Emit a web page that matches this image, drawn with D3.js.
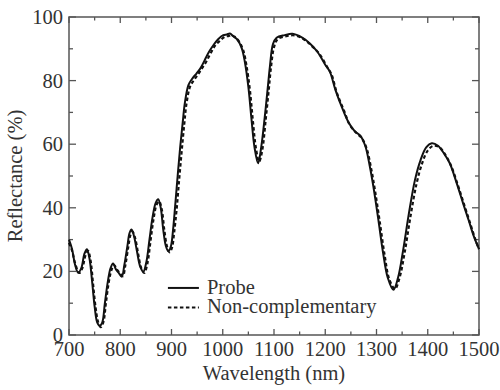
<!DOCTYPE html>
<html>
<head>
<meta charset="utf-8">
<script src="https://cdn.jsdelivr.net/npm/d3@7"></script>
</head>
<body style="margin:0">
<svg id="chart" width="500" height="390"></svg>
<script>
// Data
const probeWl = [700, 706, 712, 718, 724, 730, 735, 740, 745, 750, 755, 760, 765, 770, 776, 781, 786, 792, 797, 803,
  808, 814, 818, 822, 827, 833, 839, 845, 851, 857, 863, 869, 874, 879, 884, 889, 894, 899, 903, 907,
  912, 917, 922, 926, 933, 940, 949, 957, 965, 973, 982, 991, 1001, 1008, 1014, 1020, 1028, 1037, 1043, 1050,
  1056, 1062, 1069, 1075, 1082, 1088, 1092, 1098, 1105, 1121, 1136, 1155, 1170, 1185, 1200, 1209, 1220, 1234, 1245, 1258,
  1268, 1278, 1287, 1294, 1303, 1313, 1322, 1333, 1342, 1352, 1363, 1375, 1386, 1397, 1408, 1420, 1432, 1443, 1456, 1469,
  1480, 1490, 1500];
const probeR = [30, 27, 22, 19.6, 21, 25.5, 27, 24, 17, 9, 4, 2.9, 4, 10, 17, 21, 22.5, 20.5, 19.5, 18.3,
  22, 28, 32, 33.2, 31, 26, 21.5, 19.9, 23, 30, 37, 41.5, 42.7, 40, 33, 28, 26.3, 28, 33, 40.3,
  50, 59.2, 67, 72.9, 78.6, 80.5, 82.3, 84, 86.5, 89, 91.2, 93, 94.3, 94.5, 94.8, 94, 93, 90.2, 86, 78,
  68, 59, 54, 59, 68.6, 78, 84.4, 91.5, 93.5, 94.3, 94.7, 93.5, 91.7, 89, 85, 82.8, 77, 71, 67, 64,
  62.8, 59.5, 53, 46.6, 37, 25.7, 18, 14.2, 18, 26.7, 38, 48.7, 55, 59, 60.3, 59.5, 57, 54, 48, 41.4,
  36, 31, 27];

const nonWl = [700, 706, 712, 720, 726, 732, 737, 742, 747, 752, 757, 762, 767, 772, 778, 783, 788, 794, 799, 805,
  810, 816, 820, 824, 829, 835, 841, 847, 853, 859, 865, 871, 876, 881, 886, 891, 896, 901, 905, 910,
  915, 920, 925, 929, 936, 943, 952, 960, 968, 976, 985, 994, 1004, 1011, 1017, 1023, 1031, 1040, 1046, 1053,
  1059, 1065, 1071, 1077, 1084, 1090, 1094, 1100, 1107, 1124, 1141, 1158, 1173, 1188, 1203, 1212, 1223, 1238, 1248, 1261,
  1271, 1281, 1290, 1297, 1306, 1316, 1325, 1336, 1345, 1355, 1366, 1378, 1389, 1400, 1411, 1423, 1435, 1446, 1459, 1472,
  1483, 1493, 1500];
const nonR = [29, 26.5, 22.5, 19.5, 21, 25, 26.5, 23.5, 16, 8.5, 4, 2.5, 4, 10, 17, 20.5, 22, 20.5, 19.5, 18.5,
  22, 28, 31.5, 32.5, 30.5, 25.5, 21, 19.5, 22.5, 29.5, 36.5, 41, 42, 39.5, 33, 28, 26, 27.5, 32, 39.5,
  49, 58, 66.5, 72.5, 78, 80, 82, 84, 86, 88.5, 91, 92.5, 93.8, 94, 94.2, 93.8, 92.5, 89.5, 85, 77,
  67, 58.5, 54.5, 58, 68, 77.5, 84, 90.5, 93, 94, 94.2, 93, 91, 88.5, 84.5, 82, 76, 70, 66, 63.5,
  62, 58.5, 52, 45.5, 36, 25, 17.5, 14.5, 18, 26, 37, 47.5, 54, 58, 59.5, 59, 56.5, 53, 47, 40.5,
  35, 30, 27];

const xTicks = [700, 800, 900, 1000, 1100, 1200, 1300, 1400, 1500];
const xMinor = [750, 850, 950, 1050, 1150, 1250, 1350, 1450];
const yTicks = [0, 20, 40, 60, 80, 100];
const yMinor = [10, 30, 50, 70, 90];
const seriesNames = ["Probe", "Non-complementary"];

const svg = d3.select("#chart");
const margin = { top: 17, bottom: 55, left: 69, right: 21 };
const W = 500, H = 390;

const xScale = d3.scaleLinear().domain([700, 1500]).range([margin.left, W - margin.right]);
const yScale = d3.scaleLinear().domain([0, 100]).range([H - margin.bottom, margin.top]);
const x0 = margin.left, x1 = W - margin.right, y0 = H - margin.bottom, y1 = margin.top;

const frameColor = "#555";
const textColor = "#333";
const fontName = "Liberation Serif";

function label(x, y, str, anchor, transform) {
  const t = svg.append("text")
    .attr("font-family", fontName)
    .attr("font-size", 20.5)
    .attr("fill", textColor)
    .attr("text-anchor", anchor)
    .text(str);
  if (transform) t.attr("transform", transform);
  else t.attr("x", x).attr("y", y);
  return t;
}

// ticks (inward, mirrored)
const tickG = svg.append("g").attr("stroke", frameColor).attr("stroke-width", 1.3);
const addX = (vals, len) => vals.forEach((v) => {
  const x = xScale(v);
  tickG.append("line").attr("x1", x).attr("x2", x).attr("y1", y0).attr("y2", y0 - len);
  tickG.append("line").attr("x1", x).attr("x2", x).attr("y1", y1).attr("y2", y1 + len);
});
const addY = (vals, len) => vals.forEach((v) => {
  const y = yScale(v);
  tickG.append("line").attr("x1", x0).attr("x2", x0 + len).attr("y1", y).attr("y2", y);
  tickG.append("line").attr("x1", x1).attr("x2", x1 - len).attr("y1", y).attr("y2", y);
});
addX(xTicks, 6);
addX(xMinor, 3.5);
addY(yTicks, 7);
addY(yMinor, 4);

// frame
svg.append("rect")
  .attr("x", x0).attr("y", y1)
  .attr("width", x1 - x0)
  .attr("height", y0 - y1)
  .attr("fill", "none")
  .attr("stroke", frameColor)
  .attr("stroke-width", 1.5);

// tick labels
xTicks.forEach((d) => label(xScale(d), y0 + 21, d, "middle"));
yTicks.forEach((d) => label(x0 - 6, yScale(d) + 7, d, "end"));

// axis titles
label((x0 + x1) / 2, y0 + 45, "Wavelength (nm)", "middle");
label(0, 0, "Reflectance (%)", "middle", `translate(22,${(y0 + y1) / 2}) rotate(-90)`);

// lines
const lineGen = d3.line()
  .x((d) => xScale(d[0]))
  .y((d) => yScale(d[1]))
  .curve(d3.curveCatmullRom.alpha(0.5));

const probe = probeWl.map((w, i) => [w, probeR[i]]);
const nonComp = nonWl.map((w, i) => [w, nonR[i]]);

svg.append("path").attr("d", lineGen(nonComp))
  .attr("fill", "none").attr("stroke", "#111").attr("stroke-width", 2.2)
  .attr("stroke-dasharray", "3.5,2.5");
svg.append("path").attr("d", lineGen(probe))
  .attr("fill", "none").attr("stroke", "#111").attr("stroke-width", 2);

// legend
const lx = xScale(893), ly = yScale(14.8);
seriesNames.forEach((name, i) => {
  const y = ly + i * 19.5;
  svg.append("line")
    .attr("x1", lx).attr("x2", lx + 31).attr("y1", y).attr("y2", y)
    .attr("stroke", "#111").attr("stroke-width", 2)
    .attr("stroke-dasharray", i === 1 ? "3.5,2.5" : null);
  label(lx + 39, y + 6, name, "start");
});
</script>
</body>
</html>
